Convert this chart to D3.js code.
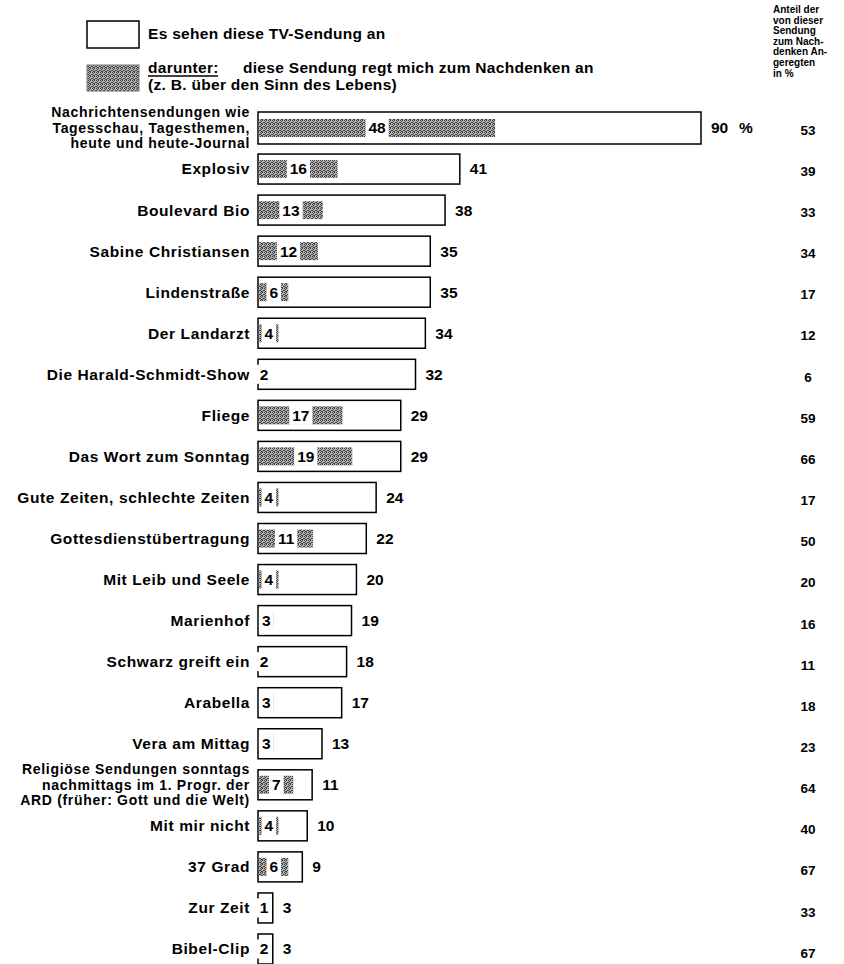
<!DOCTYPE html>
<html><head><meta charset="utf-8">
<script src="https://cdn.jsdelivr.net/npm/d3@7/dist/d3.min.js"></script>
<style>
body{margin:0;background:#fff;}
text{font-family:"Liberation Sans",Arial,Helvetica,sans-serif;font-weight:bold;fill:#000;}
</style></head><body>
<svg id="c" width="844" height="964"></svg>
<script>
const shows = [
  "Nachrichtensendungen wie\nTagesschau, Tagesthemen,\nheute und heute-Journal",
  "Explosiv","Boulevard Bio","Sabine Christiansen","Lindenstraße","Der Landarzt",
  "Die Harald-Schmidt-Show","Fliege","Das Wort zum Sonntag","Gute Zeiten, schlechte Zeiten",
  "Gottesdienstübertragung","Mit Leib und Seele","Marienhof","Schwarz greift ein","Arabella",
  "Vera am Mittag",
  "Religiöse Sendungen sonntags\nnachmittags im 1. Progr. der\nARD (früher: Gott und die Welt)",
  "Mit mir nicht","37 Grad","Zur Zeit","Bibel-Clip"
];
const watchers = [90,41,38,35,35,34,32,29,29,24,22,20,19,18,17,13,11,10,9,3,3];
const thinkers = [48,16,13,12,6,4,2,17,19,4,11,4,3,2,3,3,7,4,6,1,2];
const shareOfWatchers = [53,39,33,34,17,12,6,59,66,17,50,20,16,11,18,23,64,40,67,33,67];
const legendLabels = ["Es sehen diese TV-Sendung an","darunter:","diese Sendung regt mich zum Nachdenken an","(z. B. über den Sinn des Lebens)"];
const headerLines = ["Anteil der","von dieser","Sendung","zum Nach-","denken An-","geregten","in %"];

const svg = d3.select("#c");
const defs = svg.append("defs");
const pat = defs.append("pattern").attr("id","hatch").attr("patternUnits","userSpaceOnUse")
  .attr("width",4).attr("height",4);
pat.append("rect").attr("width",4).attr("height",4).attr("fill","#b4b4b4");
[[0,0],[2,0],[1,1],[3,2],[2,3],[0,2],[1,3]].forEach(([a,b])=>pat.append("rect").attr("x",a).attr("y",b).attr("width",1).attr("height",1).attr("fill","#404040"));

const idx = d3.range(shows.length);
const x = d3.scaleLinear().domain([0,90]).range([258,701]);
const y = d3.scalePoint().domain(idx).range([128,949]);
const yR = d3.scalePoint().domain(idx).range([130,953]);

const FS = 15.5, LS = "0.6px";
// Legend
svg.append("rect").attr("x",87).attr("y",21).attr("width",52).attr("height",27)
  .attr("fill","#fff").attr("stroke","#000").attr("stroke-width",1.5);
svg.append("rect").attr("x",87).attr("y",65).attr("width",52).attr("height",26)
  .attr("fill","url(#hatch)").attr("stroke","#777").attr("stroke-width",1);
const lg = (t,xx,yy)=>svg.append("text").attr("x",xx).attr("y",yy).attr("dy","0.35em")
  .style("font-size","15.5px").style("letter-spacing","0.3px").text(t);
lg(legendLabels[0],148,34);
lg(legendLabels[1],148,68);
lg(legendLabels[2],243,68);
lg(legendLabels[3],148,85);
svg.append("line").attr("x1",148).attr("x2",218).attr("y1",76).attr("y2",76).attr("stroke","#000").attr("stroke-width",1.3);

// Right header
const hdr = svg.append("text").attr("x",773).style("font-size","10px");
headerLines.forEach((l,i)=>hdr.append("tspan").attr("x",773).attr("y",13+i*10.6).text(l));

// Rows
const rows = svg.selectAll("g.row").data(idx).join("g").attr("class","row");

rows.each(function(i){
  const g = d3.select(this);
  const cy = y(i);
  const h = (i===0) ? 32 : 30;
  // category label
  const lines = shows[i].split("\n");
  const multi = lines.length > 1;
  const t = g.append("text").attr("text-anchor","end")
    .style("font-size",(multi?14:FS)+"px").style("letter-spacing",multi?"0.7px":LS);
  lines.forEach((l,k)=>t.append("tspan").attr("x",250)
    .attr("y",cy + (k-(lines.length-1)/2)*15.5).attr("dy","0.35em").text(l));
  // outer bar
  g.append("rect").attr("x",x(0)).attr("y",cy-h/2).attr("width",x(watchers[i])-x(0)).attr("height",h)
    .attr("fill","#fff").attr("stroke","#000").attr("stroke-width",1.5);
  // inner shaded bar
  const w2 = x(thinkers[i])-x(0);
  g.append("rect").attr("x",x(0)+0.75).attr("y",cy-9).attr("width",w2).attr("height",18)
    .attr("fill","url(#hatch)");
  const cx = Math.max(x(0) + w2/2 + 1, x(0)+6);
  const bg = g.append("rect").attr("fill","#fff");
  const lab = g.append("text").attr("x",cx).attr("y",cy).attr("dy","0.35em")
    .attr("text-anchor","middle").style("font-size",FS+"px").text(thinkers[i]);
  const tw = lab.node().getComputedTextLength();
  bg.attr("x",cx-tw/2-3).attr("y",cy-9.5).attr("width",tw+6).attr("height",19);
  // value label
  g.append("text").attr("x",x(watchers[i])+10).attr("y",cy).attr("dy","0.35em")
    .style("font-size",FS+"px").text(watchers[i]);
  if(i===0) g.append("text").attr("x",x(watchers[i])+38).attr("y",cy).attr("dy","0.35em")
    .style("font-size",FS+"px").text("%");
  // right column
  svg.append("text").attr("x",808).attr("y",yR(i)).attr("dy","0.35em").attr("text-anchor","middle")
    .style("font-size","13.5px").text(shareOfWatchers[i]);
});
</script></body></html>
